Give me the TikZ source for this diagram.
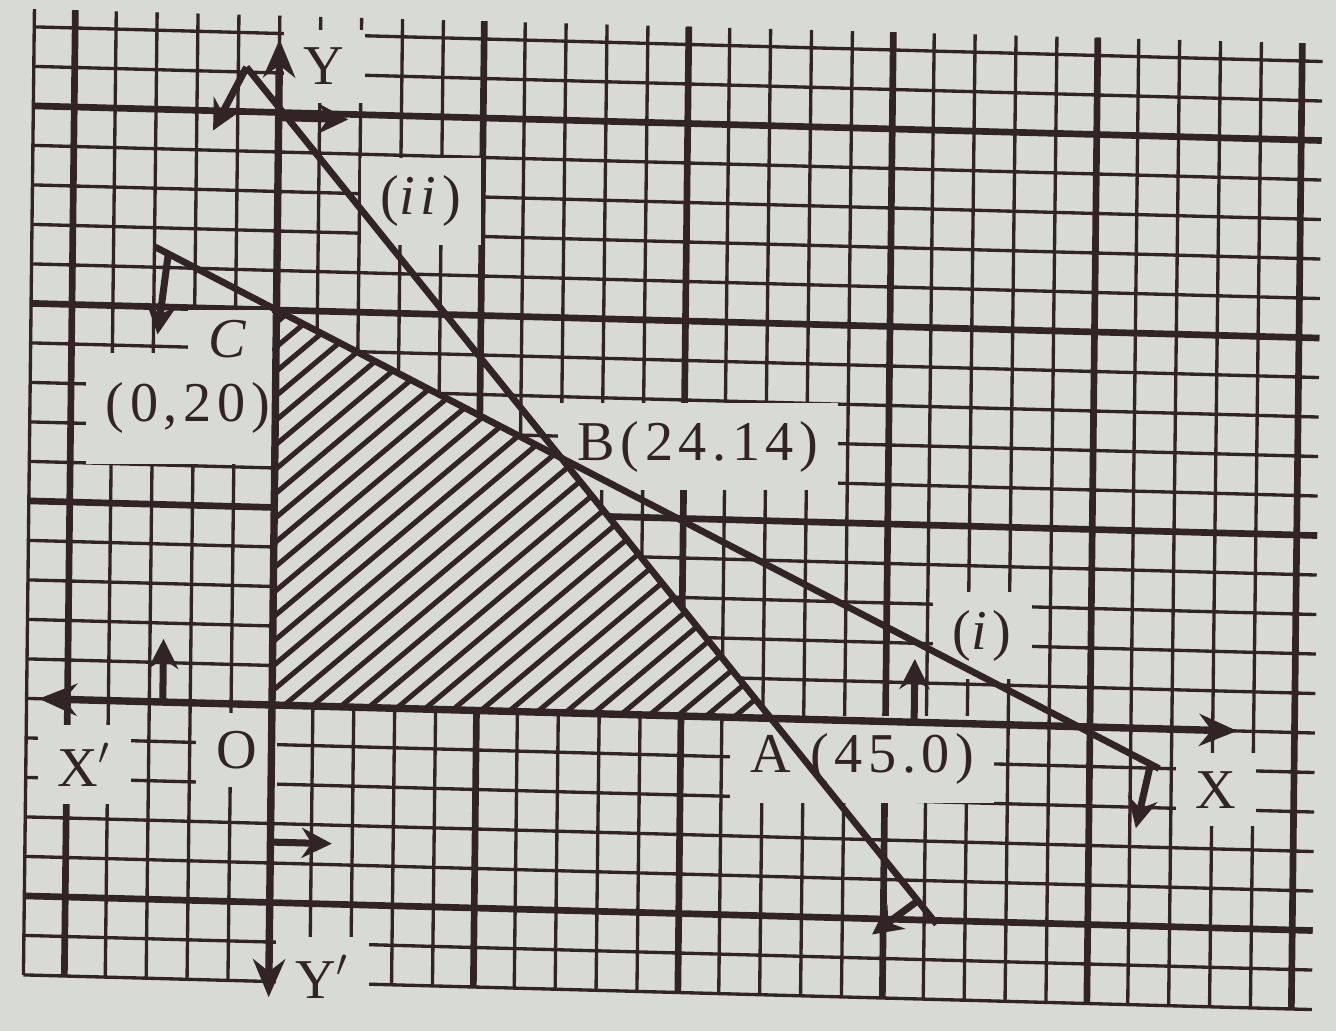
\documentclass[tikz,border=0pt]{standalone}
\usepackage{fontspec}
\setmainfont{Liberation Serif}[LetterSpace=10]
\usepackage{tikz}
\usetikzlibrary{calc,arrows.meta}
\definecolor{ink}{RGB}{50,35,38}
\definecolor{paper}{RGB}{216,218,213}

\begin{document}
\begin{tikzpicture}[x={(0.409cm,-0.011cm)}, y={(0.0045cm,0.395cm)},
  every node/.style={font=\fontsize{16}{18}\selectfont, text=ink},
  lbl/.style={fill=paper, inner xsep=0.2cm, inner ysep=0.18cm},
  fine/.style={ink, line width=0.95pt},
  major/.style={ink, line width=1.9pt},
  hatch/.style={ink, line width=1.45pt},
  cline/.style={ink, line width=1.9pt},
  axis/.style={ink, line width=2.1pt, {Stealth[length=0.38cm,width=0.32cm]}-{Stealth[length=0.38cm,width=0.32cm]}},
  tick/.style={ink, line width=2pt, -{Stealth[length=0.3cm,width=0.3cm]}}]
\fill[paper] (-2.72cm,-3.26cm) rectangle (10.64cm,7.05cm);
\useasboundingbox (-2.72cm,-3.26cm) rectangle (10.64cm,7.05cm);
\foreach \i in {-6,...,25} \draw[fine] (\i,-7) -- (\i,17.45);
\foreach \j in {-7,...,17} \draw[fine] (-6,\j) -- (25.5,\j);
\foreach \i in {-5,5,10,15,20,25} \draw[major] (\i,-7) -- (\i,17.45);
\foreach \j in {-5,5,10,15} \draw[major] (-6,\j) -- (25.5,\j);
\coordinate (O) at (0,0);
\coordinate (C) at (0,10);
\coordinate (B) at (7,6.45);
\coordinate (A) at (12.2,0);
\node[lbl] (lY) at (1.1,16.2) {Y};
\node[lbl] (lii) at (3.5,12.85) {(\textit{ii})};
\node[lbl, inner ysep=0.3cm] (lC2) at (-2.14,7.45) {(0,20)};
\node[lbl, inner ysep=0.1cm] (lC) at (-1.13,9.23) {\textit{C}};
\node[lbl] (lB) at (10.34,6.82) {B(24.14)};
\node[lbl] (li) at (17.34,2.23) {(\textit{i})};
\node[lbl] (lA) at (14.44,-0.97) {A (45.0)};
\node[lbl] (lX) at (23.1,-1.5) {X};
\node[lbl] (lX2) at (-4.57,-1.64) {X$'$};
\node[lbl] (lO) at (-0.85,-1.17) {O};
\node[lbl] (lY2) at (1.3,-6.84) {Y$'$};
\begin{scope}
\fill[paper] (O) -- (C) -- (B) -- (A) -- cycle;
\clip (O) -- (C) -- (B) -- (A) -- cycle;
\foreach \k in {0,...,36} \draw[hatch] (\k*0.29cm-5.4cm,-0.5cm) -- ++(40:9cm);
\end{scope}
\coordinate (xl) at (-5.7,0); \coordinate (xr) at (23.6,0);
\coordinate (yt) at (0,16.85); \coordinate (yb) at (0,-7.4);
\draw[axis] (xl) -- (xr);
\draw[axis] (yb) -- (yt);
\coordinate (i1) at ($(C)!-0.43!(B)$); \coordinate (i2) at ($(C)!3.1!(B)$);
\coordinate (ii1) at ($(A)!2.5!(B)$); \coordinate (ii2) at ($(A)!-0.79!(B)$);
\draw[cline] (i1) -- (i2);
\draw[cline] (ii1) -- (ii2);
\coordinate (si1) at ($(C)!-0.38!(B)$); \coordinate (ti1) at (-2.9,9.3);
\coordinate (si2) at ($(C)!3.07!(B)$); \coordinate (ti2) at (21.15,-2.53);
\coordinate (tii1) at (-1.6,14.5);
\coordinate (sii2) at ($(A)!-0.7!(B)$); \coordinate (tii2) at (14.73,-5.4);
\coordinate (sx1) at (0,14.87); \coordinate (tx1) at (1.7,14.87);
\coordinate (sx2) at (0,-3.47); \coordinate (tx2) at (1.5,-3.47);
\coordinate (sy1) at (-2.67,0); \coordinate (ty1) at (-2.67,1.6);
\coordinate (sy2) at (15.7,0); \coordinate (ty2) at (15.7,1.6);
\draw[tick] (si1) -- (ti1); \draw[tick] (si2) -- (ti2); \draw[tick] (ii1) -- (tii1); \draw[tick] (sii2) -- (tii2);
\draw[tick] (sx1) -- (tx1); \draw[tick] (sx2) -- (tx2); \draw[tick] (sy1) -- (ty1); \draw[tick] (sy2) -- (ty2);
\end{tikzpicture}
\end{document}
